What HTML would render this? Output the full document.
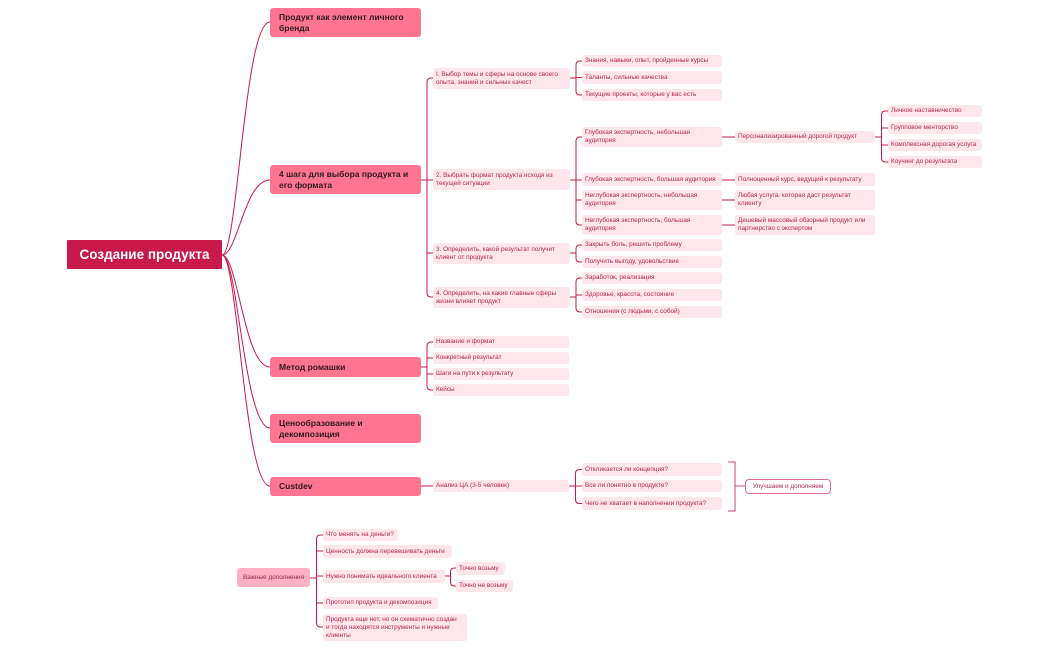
<!DOCTYPE html>
<html><head><meta charset="utf-8">
<style>
body{margin:0;width:1050px;height:650px;background:#fff;position:relative;overflow:hidden;font-family:"Liberation Sans","DejaVu Sans",sans-serif}
.n{position:absolute;box-sizing:border-box;border-radius:3px}
.r{background:#c8194a;color:#fff;font-weight:bold;font-size:13.5px;display:flex;align-items:center;justify-content:center;border-radius:1px}
.m{background:#ff7591;color:#2a1a1f;font-weight:bold;font-size:8.5px;line-height:11px;padding:5px 9px;display:flex;align-items:center}
.s{background:#ffe6ec;color:#b3274f;font-size:6.4px;line-height:8px;padding:2px 3px;display:flex;align-items:center;white-space:nowrap;overflow:hidden}
svg{position:absolute;left:0;top:0}
</style></head><body>
<svg width="1050" height="650" fill="none" stroke="#c8194a" stroke-width="1">
<path d="M222 255 C238 255 244 22 270 22"/>
<path d="M222 255 C238 255 244 180 270 180"/>
<path d="M222 255 C238 255 244 367 270 367"/>
<path d="M222 255 C238 255 244 428 270 428"/>
<path d="M222 255 C238 255 244 486 270 486"/>
<g id="br"></g>
<path d="M728 462 H735 V511 H728 M735 486 H745" stroke="#d0456f"/>
</svg>
<script>
function B(px,py,cx,ys){var sx=(px+cx)/2,d="M"+px+" "+py+" H"+sx;var a=ys[0],b=ys[ys.length-1];
if(ys.length==1){d="M"+px+" "+py+" H"+cx;}else{
d+=" M"+cx+" "+a+" H"+(sx+4)+" Q"+sx+" "+a+" "+sx+" "+(a+4)+" V"+(b-4)+" Q"+sx+" "+b+" "+(sx+4)+" "+b+" H"+cx;
for(var i=1;i<ys.length-1;i++)d+=" M"+sx+" "+ys[i]+" H"+cx;}
var p=document.createElementNS("http://www.w3.org/2000/svg","path");p.setAttribute("d",d);document.getElementById("br").appendChild(p);}
B(421,180,433,[78,180,253,297]);
B(570,78,582,[61,77.5,95]);
B(570,180,582,[137,180,200,225]);
B(570,253,582,[245,262]);
B(570,297,582,[278,295,312]);
B(722,137,735,[137]);B(722,180,735,[180]);B(722,200,735,[200]);B(722,225,735,[225]);
B(875,137,888,[111,128,145,162]);
B(421,367,433,[342,358,374,390]);
B(421,486,433,[486]);
B(569,486,582,[469.5,486,503.5]);
B(310,578,323,[535,551,576,603,627]);
B(445,576,456,[568,586]);
</script>
<div class="n r" style="left:67px;top:240px;width:155px;height:29px">Создание продукта</div>
<div class="n m" style="left:270px;top:8px;width:151px;height:29px">Продукт как элемент личного бренда</div>
<div class="n m" style="left:270px;top:165px;width:151px;height:29px">4 шага для выбора продукта и его формата</div>
<div class="n m" style="left:270px;top:357px;width:151px;height:20px">Метод ромашки</div>
<div class="n m" style="left:270px;top:414px;width:151px;height:29px">Ценообразование и декомпозиция</div>
<div class="n m" style="left:270px;top:477px;width:151px;height:19px">Custdev</div>

<div class="n s" style="left:433px;top:68px;width:137px;height:21px">I. Выбор темы и сферы на основе своего<br>опыта, знаний и сильных качест</div>
<div class="n s" style="left:433px;top:169px;width:137px;height:21px">2. Выбрать формат продукта исходя из<br>текущей ситуации</div>
<div class="n s" style="left:433px;top:243px;width:137px;height:21px">3. Определить, какой результат получит<br>клиент от продукта</div>
<div class="n s" style="left:433px;top:287px;width:137px;height:21px">4. Определить, на какие главные сферы<br>жизни влияет продукт</div>
<div class="n s" style="left:433px;top:336px;width:136px;height:12px">Название и формат</div>
<div class="n s" style="left:433px;top:352px;width:136px;height:12px">Конкретный результат</div>
<div class="n s" style="left:433px;top:368px;width:136px;height:12px">Шаги на пути к результату</div>
<div class="n s" style="left:433px;top:384px;width:136px;height:12px">Кейсы</div>
<div class="n s" style="left:433px;top:480px;width:136px;height:12px">Анализ ЦА (3-5 человек)</div>

<div class="n s" style="left:582px;top:55px;width:140px;height:12px">Знания, навыки, опыт, пройденные курсы</div>
<div class="n s" style="left:582px;top:71px;width:140px;height:13px">Таланты, сильные качества</div>
<div class="n s" style="left:582px;top:89px;width:140px;height:12px">Текущие проекты, которые у вас есть</div>
<div class="n s" style="left:582px;top:127px;width:140px;height:20px">Глубокая экспертность, небольшая<br>аудитория</div>
<div class="n s" style="left:582px;top:173px;width:140px;height:13px">Глубокая экспертность, большая аудитория</div>
<div class="n s" style="left:582px;top:190px;width:140px;height:20px">Неглубокая экспертность, небольшая<br>аудитория</div>
<div class="n s" style="left:582px;top:215px;width:140px;height:20px">Неглубокая экспертность, большая<br>аудитория</div>
<div class="n s" style="left:582px;top:239px;width:140px;height:12px">Закрыть боль, решить проблему</div>
<div class="n s" style="left:582px;top:256px;width:140px;height:12px">Получить выгоду, удовольствие</div>
<div class="n s" style="left:582px;top:272px;width:140px;height:12px">Заработок, реализация</div>
<div class="n s" style="left:582px;top:289px;width:140px;height:12px">Здоровье, красота, состояние</div>
<div class="n s" style="left:582px;top:306px;width:140px;height:12px">Отношения (с людьми, с собой)</div>
<div class="n s" style="left:582px;top:463px;width:140px;height:13px">Откликается ли концепция?</div>
<div class="n s" style="left:582px;top:480px;width:140px;height:12px">Все ли понятно в продукте?</div>
<div class="n s" style="left:582px;top:497px;width:140px;height:13px">Чего не хватает в наполнении продукта?</div>

<div class="n s" style="left:735px;top:131px;width:140px;height:12px">Персонализированный дорогой продукт</div>
<div class="n s" style="left:735px;top:173px;width:140px;height:13px">Полноценный курс, ведущий к результату</div>
<div class="n s" style="left:735px;top:190px;width:140px;height:20px">Любая услуга, которая даст результат<br>клиенту</div>
<div class="n s" style="left:735px;top:215px;width:140px;height:20px">Дешевый массовый обзорный продукт или<br>партнерство с экспертом</div>

<div class="n s" style="left:888px;top:105px;width:94px;height:12px">Личное наставничество</div>
<div class="n s" style="left:888px;top:122px;width:94px;height:12px">Групповое менторство</div>
<div class="n s" style="left:888px;top:139px;width:94px;height:12px">Комплексная дорогая услуга</div>
<div class="n s" style="left:888px;top:156px;width:94px;height:12px">Коучинг до результата</div>

<div class="n s" style="left:745px;top:479px;width:86px;height:15px;background:#fff;border:1px solid #e0708f;border-radius:4px;justify-content:center">Улучшаем и дополняем</div>

<div class="n s" style="left:237px;top:568px;width:73px;height:19px;background:#ffb0c2;color:#8a2a45;justify-content:center">Важные дополнения</div>
<div class="n s" style="left:323px;top:529px;width:75px;height:12px">Что менять на деньги?</div>
<div class="n s" style="left:323px;top:545px;width:129px;height:13px">Ценность должна перевешивать деньги</div>
<div class="n s" style="left:323px;top:570px;width:122px;height:13px">Нужно понимать идеального клиента</div>
<div class="n s" style="left:323px;top:597px;width:115px;height:12px">Прототип продукта и декомпозиция</div>
<div class="n s" style="left:323px;top:614px;width:144px;height:27px">Продукта еще нет, но он схематично создан<br>и тогда находятся инструменты и нужные<br>клиенты</div>
<div class="n s" style="left:456px;top:562px;width:49px;height:13px">Точно возьму</div>
<div class="n s" style="left:456px;top:580px;width:57px;height:12px">Точно не возьму</div>
</body></html>
